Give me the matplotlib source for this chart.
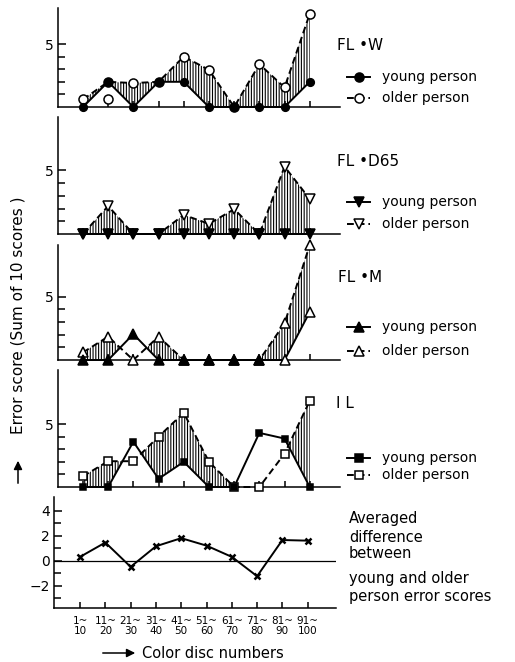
import numpy as np
import matplotlib
matplotlib.use('Agg')
import matplotlib.pyplot as plt
from matplotlib.lines import Line2D

# canvas size in pixels (dpi 100)
W, H = 515, 662

categories = ['1~\n10', '11~\n20', '21~\n30', '31~\n40', '41~\n50',
              '51~\n60', '61~\n70', '71~\n80', '81~\n90', '91~\n100']

# FL·W
flw_young = [0, 2, 0, 2, 2, 0, 0, 0, 0, 2]
flw_older = [0.6, 2, 1.9, 2, 4, 2.95, 0, 3.4, 1.55, 7.4]
flw_stray = [0.6]  # lone open circle under the 11~20 point

# FL·D65
d65_young = [0, 0, 0, 0, 0, 0, 0, 0, 0, 0]
d65_older = [0, 2.2, 0, 0, 1.5, 0.8, 1.95, 0, 5.3, 2.75]

# FL·M
flm_young = [0, 0, 2.05, 0, 0, 0, 0, 0, 0, 3.8]
flm_older = [0.6, 1.85, 0, 1.85, 0, 0, 0, 0, 2.9, 9.1]

# IL
il_young = [0, 0, 3.6, 0.65, 2.0, 0, 0, 4.3, 3.85, 0]
il_older = [0.85, 2.05, 2.05, 4.0, 5.9, 2.0, 0, 0, 2.65, 6.85]

# averaged difference (older - young)
avg_diff = [0.3, 1.45, -0.5, 1.15, 1.8, 1.2, 0.3, -1.25, 1.65, 1.6]

panels = [
    ('FL •W', 'o', flw_young, flw_older, 7.86),
    ('FL •D65', 'v', d65_young, d65_older, 9.2),
    ('FL •M', '^', flm_young, flm_older, 9.1),
    ('I L', 's', il_young, il_older, 9.3),
]

# axes boxes in pixels: left, top, right, bottom
boxes = [(58, 8, 340, 107), (58, 117, 340, 234), (58, 245, 340, 360),
         (58, 370, 340, 487)]
avg_box = (54, 497, 336, 608)
title_pos = [(337, 45), (337, 162), (338, 278), (336, 403)]
legend_y = [(77, 98), (202, 224), (327, 351), (458, 475)]

ms_map = {'o': 6.5, 'v': 7.5, '^': 7.5, 's': 6}
LW = 1.4
DASH = (0, (3.5, 2))

plt.rcParams['hatch.linewidth'] = 0.8
plt.rcParams['font.family'] = 'DejaVu Sans'

fig = plt.figure(figsize=(W / 100, H / 100), dpi=100)


def px_rect(b):
    l, t, r, bt = b
    return [l / W, 1 - bt / H, (r - l) / W, (bt - t) / H]


def fy(y):
    return 1 - y / H


def style_axes(ax):
    for s in ['top', 'right']:
        ax.spines[s].set_visible(False)
    for s in ['left', 'bottom']:
        ax.spines[s].set_linewidth(1.1)
    ax.tick_params(axis='x', direction='in', length=4, width=1.1)
    ax.tick_params(axis='y', which='major', direction='in', length=6, width=1.1,
                   labelsize=10, pad=3)
    ax.tick_params(axis='y', which='minor', direction='in', length=5, width=1.1)


x = np.arange(len(categories))

for i, (title, mk, young, older, ytop) in enumerate(panels):
    ax = fig.add_axes(px_rect(boxes[i]))
    young = np.array(young, dtype=float)
    older = np.array(older, dtype=float)
    ax.fill_between(x, young, older, where=older >= young, interpolate=True,
                    facecolor='none', edgecolor='black', linewidth=0,
                    hatch='||||||', zorder=1)
    ax.plot(x, young, '-', color='k', lw=LW, zorder=2, clip_on=False)
    ax.plot(x, older, color='k', lw=LW, ls=DASH, zorder=2, clip_on=False)
    ms = ms_map[mk]
    ax.plot(x, older, mk, ms=ms, mfc='white', mec='k', mew=1.1, ls='none',
            zorder=3, clip_on=False)
    yfill = ['k'] * len(x)
    if mk == '^':
        yfill[8] = 'white'
        yfill[9] = 'white'
    for xi, yi, fc in zip(x, young, yfill):
        ax.plot(xi, yi, mk, ms=ms - 1 if fc == 'k' else ms, mfc=fc, mec='k',
                mew=1.1, ls='none', zorder=4, clip_on=False)
    if mk == 'o':
        ax.plot([1], flw_stray, 'o', ms=ms, mfc='white', mec='k', mew=1.1,
                zorder=3, clip_on=False)
    ax.set_xlim(-0.99, 10.2)
    ax.set_ylim(0, ytop)
    ax.set_xticks(x)
    ax.set_xticklabels([])
    ax.set_yticks([5])
    ax.set_yticks([1, 2, 3, 4], minor=True)
    style_axes(ax)

    tx, ty = title_pos[i]
    fig.text(tx / W, fy(ty), title, fontsize=11, va='center', ha='left')

    # hand-made legend
    for j, (lab, filled, ls) in enumerate([('young person', True, '-'),
                                           ('older person', False, DASH)]):
        yy = fy(legend_y[i][j])
        fig.add_artist(Line2D([347 / W, 370 / W], [yy, yy], color='k', lw=LW, ls=ls))
        fig.add_artist(Line2D([358.5 / W], [yy], marker=mk, ms=ms,
                              mfc='k' if filled else 'white', mec='k', mew=1.1,
                              ls='none'))
        fig.text(382 / W, yy, lab, fontsize=10, va='center', ha='left')

# averaged difference panel
ax5 = fig.add_axes(px_rect(avg_box))
ax5.axhline(0, color='k', lw=0.9, zorder=1)
ax5.plot(x, avg_diff, '-', color='k', lw=LW, zorder=2)
ax5.plot(x, avg_diff, 'x', ms=5, mew=1.8, color='k', zorder=3)
ax5.set_xlim(-1.03, 10.12)
ax5.set_ylim(-3.8, 5.1)
ax5.set_xticks(x)
ax5.set_xticklabels(categories, fontsize=7.5, linespacing=1.0)
ax5.set_yticks([-2, 0, 2, 4])
ax5.set_yticks([-3, -1, 1, 3], minor=True)
style_axes(ax5)
ax5.tick_params(axis='x', pad=6)

for txt, yy in [('Averaged', 519), ('difference', 537), ('between', 553),
                ('young and older', 578), ('person error scores', 596)]:
    fig.text(349 / W, fy(yy), txt, fontsize=10.5, va='center', ha='left')

# axis captions with arrows
fig.text(18 / W, fy(315), 'Error score (Sum of 10 scores )', rotation=90,
         ha='center', va='center', fontsize=11)
fig.add_artist(matplotlib.patches.FancyArrowPatch(
    (18 / W, fy(486)), (18 / W, fy(458)), transform=fig.transFigure,
    arrowstyle='-|>,head_length=5,head_width=2.5', color='k', lw=1.1))
fig.add_artist(matplotlib.patches.FancyArrowPatch(
    (100 / W, fy(653)), (138 / W, fy(653)), transform=fig.transFigure,
    arrowstyle='-|>,head_length=5,head_width=2.5', color='k', lw=1.1))
fig.text(142 / W, fy(653), 'Color disc numbers', fontsize=10.5,
         va='center', ha='left')

fig.savefig('out.png', dpi=100)
